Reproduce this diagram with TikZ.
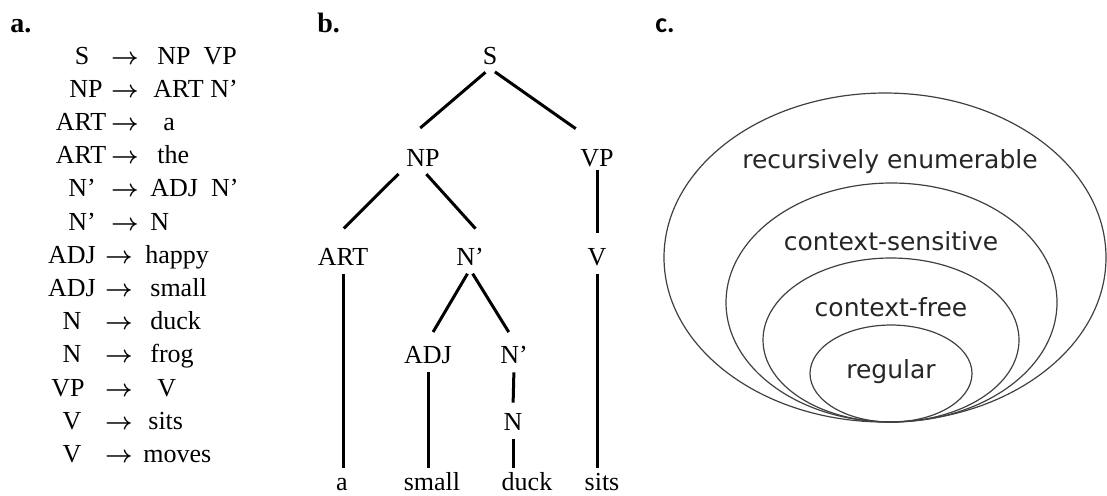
\documentclass[tikz,border=0pt]{standalone}
\usepackage{fontspec}
\usepackage{bm}
\setmainfont{Liberation Serif}
\newfontfamily\vennfont{DejaVu Sans}
\newfontfamily\calfont{Carlito}

\begin{document}
\begin{tikzpicture}[x=0.5pt,y=-0.5pt,
  cat/.style={font=\fontsize{13pt}{15pt}\selectfont,inner sep=2pt,text height=9pt,text depth=0pt,anchor=base},
  rulesym/.style={font=\fontsize{13pt}{15pt}\selectfont,inner sep=0pt,anchor=base},
  branch/.style={line width=1.5pt,shorten <=2.5pt},
  lang/.style={draw=black!75,line width=0.6pt},
  langlabel/.style={font=\vennfont\fontsize{12.5pt}{15pt}\selectfont,text=black!85,anchor=base},
  panel/.style={font=\bfseries\fontsize{14pt}{16pt}\selectfont,inner sep=0pt,anchor=base west}]
\useasboundingbox (0,0) rectangle (1107,495);

\node[panel] (la) at (10,32) {a.};
\node[panel] (lb) at (317,32) {b.};
\node[panel,font=\calfont\bfseries\fontsize{14pt}{16pt}\selectfont] (lc) at (655,32) {c.};

\foreach \lhs/\lx/\rhs/\rx [count=\i] in {S/82/NP\enskip VP/157, NP/86/ART N’/153,
    ART/81/a/163, ART/81/the/157, N’/82/ADJ\enskip N’/150, N’/82/N/150,
    ADJ/72/happy/145, ADJ/72/small/150, N/72/duck/150, N/72/frog/150,
    VP/68/V/157, V/72/sits/148, V/72/moves/143}
{
  \pgfmathsetmacro\ax{\i<7 ? 125 : 119}
  \node[rulesym] (lhs\i) at (\lx,64+33.2*\i-33.2) {\lhs};
  \node[rulesym] (arr\i) at (\ax,64+33.2*\i-33.2) {$\bm{\rightarrow}$};
  \node[rulesym,anchor=base west] (rhs\i) at (\rx,64+33.2*\i-33.2) {\rhs};
}

\node[cat] (S) at (490,64) {S};
\node[cat] (NP) at (423,166) {NP};
\node[cat] (VP) at (597,166) {VP};
\node[cat] (ART) at (343,265) {ART};
\node[cat] (Nbar) at (470,265) {N’};
\node[cat] (V) at (597,265) {V};
\node[cat] (ADJ) at (428,363) {ADJ};
\node[cat] (Nbar2) at (514,363) {N’};
\node[cat] (N) at (513,430) {N};
\node[cat] (a) at (342,490) {a};
\node[cat] (small) at (432,490) {small};
\node[cat] (duck) at (527,490) {duck};
\node[cat] (sits) at (602,490) {sits};

\draw[branch,shorten <=3pt,shorten >=12pt] (S.south) -- (NP.north west);
\draw[branch,shorten <=3pt,shorten >=13pt] (S.south) -- (VP.north);
\draw[branch,shorten >=10pt] (NP.south west) -- (ART.135);
\draw[branch,shorten >=9.4pt] (NP.south) -- (Nbar.north east);
\draw[branch,shorten <=0pt,shorten >=5pt] (VP.south) -- (V.north);
\draw[branch,shorten >=5pt] (Nbar.south) -- (ADJ.north);
\draw[branch,shorten >=5pt] (Nbar.south) -- (Nbar2.north);
\draw[branch] (ART.south) -- (ART.south |- a.north);
\draw[branch] (ADJ.south) -- (ADJ.south |- small.north);
\draw[branch,shorten >=2.5pt] (Nbar2.south) -- (N.north);
\draw[branch] (N.south) -- (N.south |- duck.north);
\draw[branch] (V.south) -- (V.south |- sits.north);

\draw[lang] (885,257.5) ellipse [x radius=110.5pt,y radius=82.25pt];
\draw[lang] (891.5,302.5) ellipse [x radius=82.75pt,y radius=59.75pt];
\draw[lang] (891,340) ellipse [x radius=64pt,y radius=41pt];
\draw[lang] (891,373.5) ellipse [x radius=40.5pt,y radius=24.25pt];

\node[langlabel] (re) at (890,168) {recursively enumerable};
\node[langlabel] (cs) at (891,250) {context-sensitive};
\node[langlabel] (cf) at (891,316) {context-free};
\node[langlabel] (reg) at (891,378) {regular};
\end{tikzpicture}
\end{document}
